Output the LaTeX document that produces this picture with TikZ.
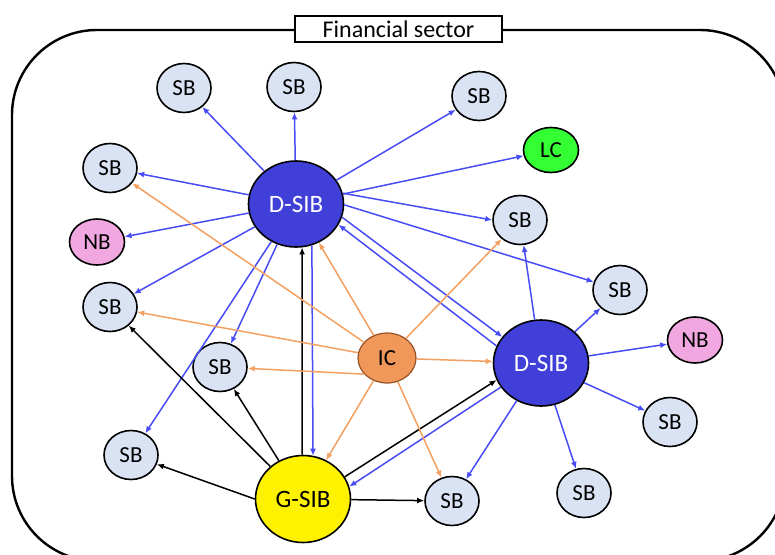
\documentclass[tikz,border=0pt]{standalone}
\usepackage{fontspec}
\setmainfont{Carlito}
\usetikzlibrary{arrows.meta,shapes.geometric}
\definecolor{sbfill}{RGB}{218,227,243}
\definecolor{dsibfill}{RGB}{64,64,216}
\definecolor{nbfill}{RGB}{241,168,224}
\definecolor{lcfill}{RGB}{51,255,51}
\definecolor{icfill}{RGB}{240,151,90}
\definecolor{icdraw}{RGB}{150,80,35}
\definecolor{bluee}{RGB}{72,76,245}
\definecolor{orangee}{RGB}{244,160,96}
\tikzset{
  nd/.style={ellipse, draw=black, line width=1.6pt, inner sep=0pt, font=\fontsize{23}{27}\selectfont},
  sbnode/.style={nd, fill=sbfill, minimum width=54pt, minimum height=49pt},
  nbnode/.style={nd, fill=nbfill, minimum width=55pt, minimum height=46pt},
  lcnode/.style={nd, fill=lcfill, minimum width=55pt, minimum height=45pt},
  icnode/.style={nd, fill=icfill, draw=icdraw, line width=1.2pt, minimum width=58pt, minimum height=50pt},
  dsibnode/.style={nd, fill=dsibfill, text=white, minimum width=95pt, minimum height=86pt, font=\fontsize{25}{29}\selectfont},
  gsibnode/.style={nd, fill=yellow, minimum width=95pt, minimum height=87pt, font=\fontsize{25}{29}\selectfont},
  arr/.style={-{Latex[length=7pt,width=6pt]}, line width=1.5pt},
  be/.style={arr, draw=bluee, fill=bluee},
  oe/.style={arr, draw=orangee, fill=orangee},
  ke/.style={arr, draw=black, fill=black},
}
\begin{document}
\begin{tikzpicture}[x=1pt,y=-1pt]
\useasboundingbox (0,0) rectangle (775,554);
\clip (0,0) rectangle (775,554);
% frame
\draw[line width=2.4pt, rounded corners=85pt] (12,30) rectangle (785,561);
\node[draw=black, fill=white, line width=2.2pt, minimum width=207pt, minimum height=26pt, inner sep=0pt, font=\fontsize{24}{27}\selectfont] (title) at (398.5,29) {Financial sector};
% nodes
\node[dsibnode] (dT) at (296,204) {D-SIB};
\node[dsibnode] (dR) at (541,363) {D-SIB};
\node[gsibnode] (g) at (303,499) {G-SIB};
\node[icnode] (ic) at (387,358) {IC};
\node[sbnode] (s1) at (184,88) {SB};
\node[sbnode] (s2) at (294,87) {SB};
\node[sbnode] (s3) at (479,96) {SB};
\node[lcnode] (lc) at (551,150) {LC};
\node[sbnode] (s4) at (110,168) {SB};
\node[nbnode] (n1) at (97,242) {NB};
\node[sbnode] (s5) at (110,307) {SB};
\node[sbnode] (s6) at (220,367) {SB};
\node[sbnode] (s7) at (131,455) {SB};
\node[sbnode] (s8) at (520,220) {SB};
\node[sbnode] (s9) at (620,290) {SB};
\node[nbnode] (n2) at (695,340) {NB};
\node[sbnode] (s10) at (670,422) {SB};
\node[sbnode] (s11) at (584,493) {SB};
\node[sbnode] (s12) at (452,501) {SB};
% blue edges from top D-SIB
\draw[be] (dT) -- (s1);
\draw[be] (dT) -- (s2);
\draw[be] (dT) -- (s3);
\draw[be] (dT) -- (lc);
\draw[be] (dT) -- (s4);
\draw[be] (dT) -- (n1);
\draw[be] (dT) -- (s5);
\draw[be] (dT) -- (s6);
\draw[be] (dT) -- (s7);
\draw[be] (dT.13) -- (s8.180);
\draw[be] (dT.-1) -- (s9);
\draw[be] (dT.-16) -- (dR.146);
\draw[be] (dR.159) -- (dT.-26);
\draw[be] (dT.-69) -- (g.77);
% blue edges from right D-SIB
\draw[be] (dR) -- (s8);
\draw[be] (dR) -- (s9);
\draw[be] (dR) -- (n2);
\draw[be] (dR) -- (s10);
\draw[be] (dR) -- (s11);
\draw[be] (dR) -- (s12);
\draw[be] (dR.211) -- (g.15);
% black edges from G-SIB
\draw[ke] (g) -- (s5);
\draw[ke] (g) -- (s6);
\draw[ke] (g.180) -- (s7);
\draw[ke] (g) -- (s12);
\draw[ke] (g.91) -- (dT.-82);
\draw[ke] (g.28) -- (dR.201);
% orange edges from IC
\draw[oe] (ic) -- (s4);
\draw[oe] (ic) -- (dT);
\draw[oe] (ic) -- (s8);
\draw[oe] (ic) -- (s5);
\draw[oe] (ic.215) -- (s6);
\draw[oe] (ic) -- (dR);
\draw[oe] (ic) -- (g);
\draw[oe] (ic) -- (s12);
\end{tikzpicture}
\end{document}
